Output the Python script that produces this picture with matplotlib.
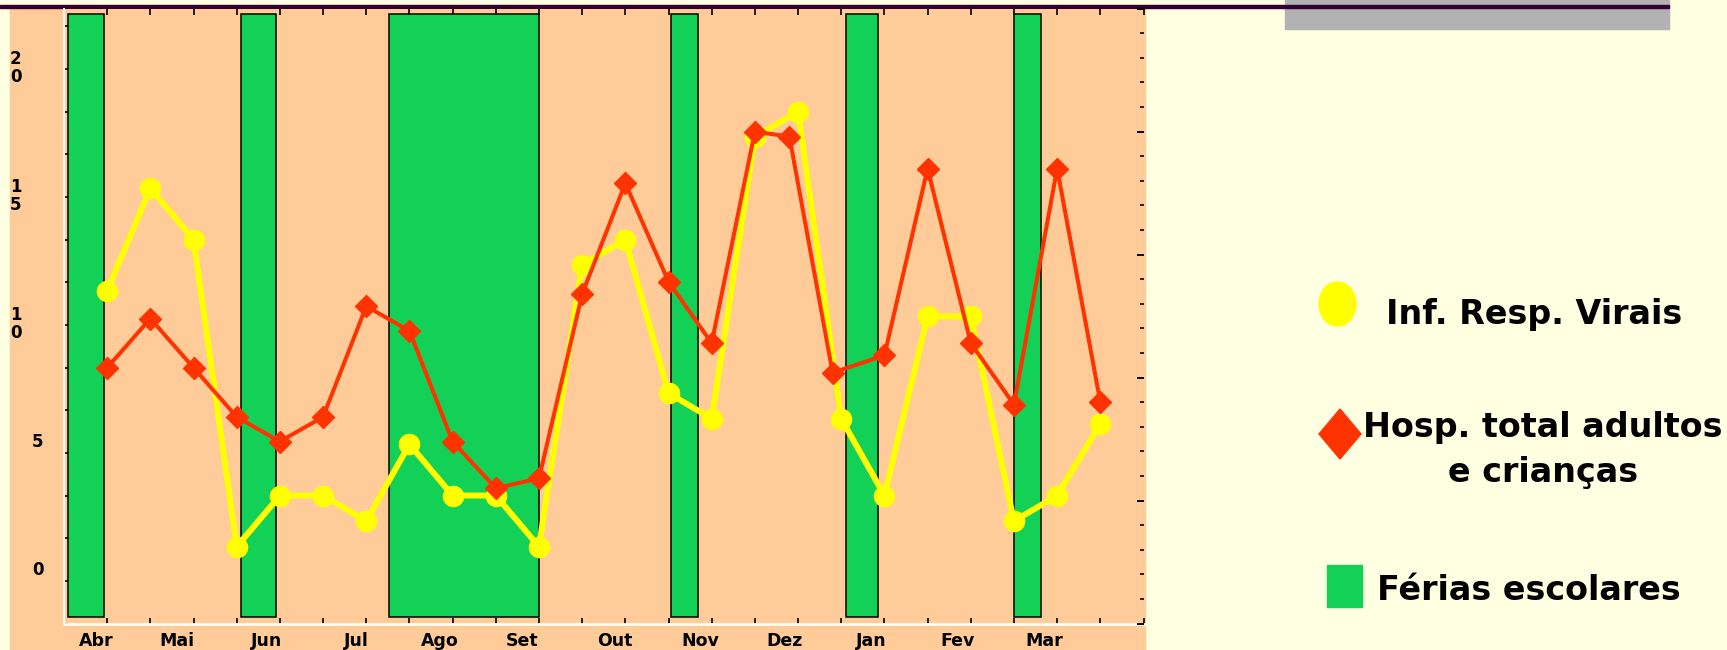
import matplotlib
matplotlib.use("Agg")
import matplotlib.pyplot as plt
import matplotlib.patches as mpatches
import numpy as np

W, H = 1727, 650

# quinzenas de Abril a Março
quinzena = list(range(1, 25))
inf_resp_virais = [11, 15, 13, 1, 3, 3, 2, 5, 3, 3, 1, 12,
                   13, 7, 6, 17, 18, 6, 3, 10, 10, 2, 3, 5.8]

hosp_x = [1, 2, 3, 4, 5, 6, 7, 8, 9, 10, 11, 12,
          13, 14, 15, 16, 16.8, 17.8, 19, 20, 21, 22, 23, 24]
hosp_total = [10.4, 12.4, 10.4, 8.4, 7.4, 8.4, 12.9, 11.9, 7.4, 5.5, 5.9, 13.4,
              17.9, 13.9, 11.4, 20.0, 19.8, 10.2, 10.9, 18.5, 11.4, 8.9, 18.5, 9.0]

meses = ['Abr', 'Mai', 'Jun', 'Jul', 'Ago', 'Set', 'Out', 'Nov', 'Dez', 'Jan', 'Fev', 'Mar']
meses_pos = [0.74, 2.61, 4.68, 6.76, 8.71, 10.61, 12.76, 14.73, 16.68, 18.69, 20.7, 22.7]

# períodos de férias escolares (em quinzenas)
ferias_ini = [0.1, 4.1, 7.53, 14.06, 18.1, 22.0]
ferias_fim = [0.93, 4.91, 11.0, 14.69, 18.86, 22.63]

escala_y = [0, 5, 10, 15, 20]
escala_txt = ['0', '5', '1\n0', '1\n5', '2\n0']

AMARELO = '#FFFF00'
VERMELHO = '#FF3300'
VERDE = '#13D156'
PESSEGO = '#FFCC99'
CREME = '#FFFFE1'


def px(x, y):
    return x / W, 1 - y / H


fig = plt.figure(figsize=(W / 100, H / 100), dpi=100, facecolor=CREME)

# fundo da area do grafico e faixa do topo
fig.add_artist(mpatches.Rectangle(px(10, 650), 1135 / W, 641.7 / H,
                                  transform=fig.transFigure, color=PESSEGO, zorder=-2))
fig.add_artist(mpatches.Rectangle(px(1285, 29), 384 / W, 29 / H,
                                  transform=fig.transFigure, color='#B2B2B2', zorder=-1))
fig.add_artist(mpatches.Rectangle(px(0, 8.3), 1669 / W, 3.6 / H,
                                  transform=fig.transFigure, color='#330033', zorder=-1))

ax = fig.add_axes([64 / W, 1 - 623.5 / H, 1079.5 / W, 614.8 / H])
ax.set_facecolor(PESSEGO)
ax.set_xlim(0, 25)
ax.set_ylim(-1.945, 22.02)

larg = np.subtract(ferias_fim, ferias_ini)
ax.bar(ferias_ini, 23.55, width=larg, bottom=-1.75, align='edge',
       color=VERDE, edgecolor='black', linewidth=1.1, zorder=1)

ax.plot(quinzena, inf_resp_virais, color=AMARELO, lw=4.3, marker='o',
        ms=14.5, mec=AMARELO, zorder=3)

ax.set_xticks(range(0, 26))
ax.tick_params(axis='x', direction='in', length=4, width=1.2, top=True,
               labelbottom=False, color='black')
ax.set_yticks(np.arange(-2, 22, 5 / 3))
ax.tick_params(axis='y', direction='in', length=3, width=1.2, labelleft=False)

for s in ['top', 'right']:
    ax.spines[s].set_visible(False)
ax.spines['left'].set_color('#FFFDF0')
ax.spines['left'].set_linewidth(1.5)
ax.spines['bottom'].set_color('#FFFDF0')
ax.spines['bottom'].set_linewidth(2)

for m, p in zip(meses, meses_pos):
    ax.text(p, -0.0285, m, transform=ax.get_xaxis_transform(), ha='center',
            va='center', fontsize=12.5, fontweight='bold', clip_on=False)

for v, t in zip(escala_y, escala_txt):
    if '\n' in t:
        ax.text(-0.05, v - 0.3, t, transform=ax.get_yaxis_transform(), ha='left',
                va='center', fontsize=12, fontweight='bold', linespacing=1.05)
    else:
        ax.text(-0.0296, v + 0.1, t, transform=ax.get_yaxis_transform(), ha='left',
                va='center', fontsize=12, fontweight='bold')

# internações no eixo secundário
ax2 = ax.twinx()
ax2.set_ylim(0, 25)
ax2.plot(hosp_x, hosp_total, color=VERMELHO, lw=2.9, marker='D', ms=11,
         mec=VERMELHO, zorder=4)
ax2.set_yticks(range(0, 26, 5))
ax2.set_yticks(range(0, 26), minor=True)
ax2.tick_params(axis='y', which='major', direction='in', length=5, width=1.4, labelright=False)
ax2.tick_params(axis='y', which='minor', direction='in', length=3, width=1.2)
for s in ax2.spines.values():
    s.set_visible(False)

# legenda
fig.add_artist(mpatches.Ellipse(px(1337.5, 304), 37 / W, 44 / H,
                                transform=fig.transFigure, color=AMARELO))
fig.add_artist(mpatches.Polygon([px(1319, 434), px(1340, 409), px(1361, 434), px(1340, 459)],
                                closed=True, transform=fig.transFigure, color=VERMELHO))
fig.add_artist(mpatches.Rectangle(px(1327, 607), 35 / W, 42 / H,
                                  transform=fig.transFigure, color=VERDE))

fs = 24
fig.text(*px(1386, 324), 'Inf. Resp. Virais', ha='left', va='baseline',
         fontsize=fs, fontweight='bold')
fig.text(*px(1543, 437), 'Hosp. total adultos', ha='center', va='baseline',
         fontsize=fs, fontweight='bold')
fig.text(*px(1543, 482), 'e crianças', ha='center', va='baseline',
         fontsize=fs, fontweight='bold')
fig.text(*px(1377, 600), 'Férias escolares', ha='left', va='baseline',
         fontsize=fs, fontweight='bold')

fig.savefig('out.png', dpi=100, facecolor=fig.get_facecolor())
